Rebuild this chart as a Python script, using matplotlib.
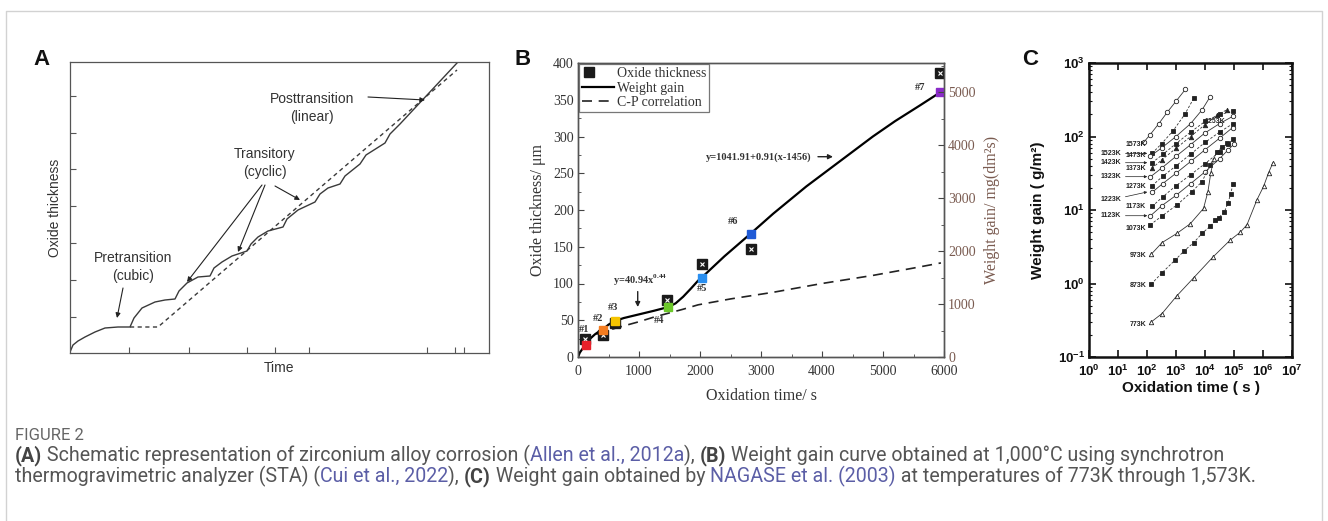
import matplotlib
matplotlib.use('Agg')
import matplotlib.pyplot as plt
from matplotlib import font_manager
from matplotlib.lines import Line2D
from matplotlib.legend_handler import HandlerTuple
from matplotlib.ticker import (FixedLocator, FixedFormatter, MultipleLocator,
                               LogLocator, NullLocator, NullFormatter)

W, H, DPI = 1328, 521, 100

installed = {f.name for f in font_manager.fontManager.ttflist}
NARROW = 'Liberation Sans Narrow' if 'Liberation Sans Narrow' in installed else 'Liberation Sans'
CAPFONT = NARROW if NARROW != 'Liberation Sans' else 'Roboto'

plt.rcParams['mathtext.fontset'] = 'custom'
plt.rcParams['mathtext.rm'] = 'Liberation Serif'
plt.rcParams['mathtext.bf'] = 'Liberation Serif:bold'
plt.rcParams['mathtext.sf'] = NARROW + ':bold'

# ---------------- panel A : schematic (arbitrary units)
a_time = [0, 3, 8, 15, 25, 35, 48, 60,
          64, 72, 85, 95, 105,
          109, 117, 128, 140,
          144, 152, 162, 177,
          181, 188, 198, 213,
          217, 228, 245,
          250, 258, 270,
          275, 290, 296, 315, 320, 330, 387]
a_thick = [1, 8, 12, 16, 21, 25, 26, 26,
           35, 45, 51, 53, 54,
           62, 70, 76, 77,
           85, 91, 97, 102,
           109, 116, 122, 126,
           134, 143, 151,
           159, 165, 169,
           177, 189, 198, 210, 219, 229, 290]
a_lin_time = [60, 88, 387]
a_lin_thick = [26, 26, 283]
a_xticks = [59, 119, 177, 205, 239, 357, 385, 394]
a_yticks = [36, 73, 110, 147, 184, 220, 257]

# ---------------- panel B : STA weight gain at 1000 C
b_wg_time = [0, 30, 80, 131, 200, 280, 350, 415, 500, 605, 750, 1000, 1250, 1480,
             1600, 1724, 1850, 1970, 2040, 2400, 2832, 3200, 3742, 4288, 4834,
             5200, 5600, 5936]
b_wg = [0, 6, 12, 17, 25, 31, 35, 38, 44, 49, 53, 58, 63, 68,
        73, 82, 93, 104, 109, 137, 168, 195, 232, 266, 300,
        321, 342, 360]
b_cp_time = [300, 605, 1000, 1233, 1500, 1724, 1970, 2500, 3197, 4000, 4834, 5500, 5950]
b_cp = [31, 39, 48, 54, 60, 65, 71, 79, 88, 100, 111, 121, 128]
b_sample_labels = ['#1', '#2', '#3', '#4', '#5', '#6', '#7']
b_sample_time = [131, 415, 605, 1479, 2040, 2832, 5936]
b_sample_wg = [16, 37, 49, 67.5, 108, 167, 360]
b_ox_time = [115, 415, 605, 1467, 2040, 2832, 5936]
b_ox_thick = [24, 30, 46, 77.5, 126, 146.5, 386]

# ---------------- panel C : NAGASE et al. weight gain (s, g/m2)
t_1573 = [76, 126, 250, 500, 1000, 2100]
w_1573 = [83, 105, 148, 214, 302, 437]
t_1523 = [150, 320, 800, 2000, 4100]
w_1523 = [59, 80, 120, 200, 331]
t_1473 = [130, 320, 1000, 3200, 7900, 15000]
w_1473 = [54, 70, 100, 150, 230, 347]
t_1423 = [150, 350, 1000, 3200, 10000, 32000, 93000]
w_1423 = [44, 57, 80, 115, 160, 200, 219]
t_1373 = [150, 320, 1000, 3200, 10000, 25000, 56000]
w_1373 = [37, 48, 69, 100, 145, 195, 230]
t_1323 = [130, 320, 1000, 3200, 10000, 32000, 95000]
w_1323 = [28.2, 37.2, 53.7, 77.6, 112, 150, 190]
t_1273 = [150, 350, 1000, 3200, 10000, 32000, 93000]
w_1273 = [21.4, 28.8, 39.8, 57.5, 83, 115, 150]
t_1223 = [150, 350, 1000, 3200, 10000, 32000, 89000]
w_1223 = [17.4, 22.9, 31.6, 45.7, 66, 95, 132]
t_1173 = [150, 350, 1000, 3200, 10000, 32000, 63000, 95000]
w_1173 = [11.2, 15.1, 21.4, 30.2, 42.7, 61.7, 79, 93]
t_1123 = [130, 330, 1000, 3200, 10000, 32000, 63000, 100000]
w_1123 = [8.3, 11.5, 15.8, 22.9, 33, 50, 66, 79]
t_1073 = [130, 330, 1070, 3500, 7900, 15000, 26000, 39000, 58000]
w_1073 = [6.3, 8.3, 11.7, 17.7, 24.3, 41, 62, 72, 81]
t_973 = [140, 330, 1070, 3100, 8900, 12600, 15800, 20000]
w_973 = [2.5, 3.6, 4.8, 6.5, 10.5, 17.8, 31.6, 50]
t_873 = [140, 330, 950, 1950, 4100, 7900, 15000, 23000, 29500, 47000, 63000, 76000, 93000]
w_873 = [0.98, 1.4, 2.1, 2.8, 3.6, 4.8, 6.0, 7.2, 7.8, 9.5, 12.6, 16.6, 22.4]
t_773 = [140, 330, 1070, 4100, 19000, 74000, 166000, 280000, 620000, 1050000, 1550000, 2200000]
w_773 = [0.30, 0.39, 0.68, 1.2, 2.3, 3.9, 5.0, 6.3, 13.8, 21, 32, 44]

c_plain_labels = ['1573K', '1473K', '1373K', '1273K', '1173K', '1073K', '973K', '873K', '773K']
c_plain_label_w = [78.3, 54.3, 36.9, 21.2, 11.3, 5.64, 2.39, 0.925, 0.281]
c_arrow_labels = ['1523K', '1423K', '1323K', '1223K', '1123K']
c_arrow_label_w = [59, 44, 28.4, 13.7, 8.36]
c_arrow_tip_w = [59, 44, 28.4, 17.6, 8.36]

fig = plt.figure(figsize=(W / DPI, H / DPI), dpi=DPI)


def px_axes(l, t, r, b):
    return fig.add_axes([l / W, 1 - b / H, (r - l) / W, (b - t) / H])


# outer frame
fig.add_artist(Line2D([6 / W, 6 / W, 1322 / W, 1322 / W], [0, 1 - 11 / H, 1 - 11 / H, 0],
                      transform=fig.transFigure, color='#d2d2d2', lw=1))

# ================= A
ink = '#3a3a3a'
axA = px_axes(70, 62, 489, 353)
axA.plot(a_time, a_thick, color=ink, lw=1.0)
axA.plot(a_lin_time, a_lin_thick, color=ink, lw=1.0, ls=(0, (3, 2.5)))
axA.set_xlim(0, 419)
axA.set_ylim(0, 291)
axA.set_xticks(a_xticks)
axA.set_yticks(a_yticks)
axA.tick_params(direction='in', length=4, width=0.8, color='#555',
                labelleft=False, labelbottom=False)
for s in axA.spines.values():
    s.set_color('#555')
    s.set_linewidth(0.9)
afont = dict(family='Liberation Sans', fontsize=10, color='#333')
axA.set_xlabel('Time', labelpad=6, **afont)
axA.set_ylabel('Oxide thickness', labelpad=6, **afont)
arr = dict(arrowstyle='-|>', lw=0.8, color='#222', mutation_scale=7, shrinkA=0, shrinkB=0)
axA.text(242, 245, 'Posttransition\n(linear)', ha='center', va='center', linespacing=1.35, **afont)
axA.annotate('', xy=(355, 253), xytext=(298, 256), arrowprops=arr)
axA.text(195, 190, 'Transitory\n(cyclic)', ha='center', va='center', linespacing=1.35, **afont)
axA.annotate('', xy=(117, 71), xytext=(192, 168), arrowprops=arr)
axA.annotate('', xy=(168, 101), xytext=(195, 168), arrowprops=arr)
axA.annotate('', xy=(230, 153), xytext=(205, 167), arrowprops=arr)
axA.text(63, 86, 'Pretransition\n(cubic)', ha='center', va='center', linespacing=1.35, **afont)
axA.annotate('', xy=(47, 35), xytext=(53, 65), arrowprops=arr)

# ================= B
serif = 'Liberation Serif'
brown = '#7a5b50'
axB = px_axes(578, 63, 944, 357)
axB.plot(b_cp_time, b_cp, color='#222', lw=1.2, ls=(0, (6, 4)), zorder=2)
axB.plot(b_wg_time, b_wg, color='black', lw=1.6, zorder=3)
axB.plot(b_ox_time, b_ox_thick, ls='none', marker='s', ms=7, mfc='#1a1a1a', mec='#1a1a1a', zorder=4)
axB.plot(b_ox_time, b_ox_thick, ls='none', marker='x', ms=3.5, mew=0.8, color='white', zorder=5)
sample_colors = ['#e8202a', '#f47c20', '#f5c400', '#6cc82a', '#2a8ff0', '#1f5ad6', '#8a2bc8']
for t, w, c in zip(b_sample_time, b_sample_wg, sample_colors):
    axB.plot(t, w, ls='none', marker='s', ms=6, mfc=c, mec=c, zorder=6)
axB.set_xlim(0, 6000)
axB.set_ylim(0, 400)
axB.xaxis.set_major_locator(MultipleLocator(1000))
axB.xaxis.set_minor_locator(MultipleLocator(500))
axB.yaxis.set_major_locator(MultipleLocator(50))
axB.yaxis.set_minor_locator(MultipleLocator(25))
axB.tick_params(which='both', direction='in', color='#444', labelcolor='#333', labelsize=10)
axB.tick_params(which='major', length=4, pad=3)
axB.tick_params(axis='x', which='major', pad=6)
axB.tick_params(which='minor', length=2)
for lab in axB.get_xticklabels() + axB.get_yticklabels():
    lab.set_family(serif)
for s in axB.spines.values():
    s.set_color('#555')
    s.set_linewidth(1.0)
axB.set_xlabel('Oxidation time/ s', family=serif, fontsize=11.5, color='#333', labelpad=7)
axB.set_ylabel('Oxide thickness/ μm', family=serif, fontsize=11.5, color='#333', labelpad=5)

ax2 = axB.twinx()
ax2.set_ylim(0, 5550)
ax2.yaxis.set_major_locator(MultipleLocator(1000))
ax2.yaxis.set_minor_locator(MultipleLocator(500))
ax2.tick_params(which='both', direction='in', color='#444', labelcolor=brown, labelsize=10)
ax2.tick_params(which='major', length=4, pad=3)
ax2.tick_params(which='minor', length=2)
for lab in ax2.get_yticklabels():
    lab.set_family(serif)
ax2.set_ylabel('Weight gain/ mg(dm²s)', family=serif, fontsize=11.5, color=brown, labelpad=6)
for s in ax2.spines.values():
    s.set_color('#555')
    s.set_linewidth(1.0)

lab_kw = dict(family=serif, fontsize=7.5, fontweight='bold', color='#333', ha='center', va='center')
lab_pos = [(98, 37), (333, 53), (570, 68), (1335, 49), (2031, 93), (2540, 184), (5616, 366)]
for name, (x, y) in zip(b_sample_labels, lab_pos):
    axB.text(x, y, name, **lab_kw)
axB.text(1016, 104, r'y=40.94x$^{\mathbf{0.44}}$', **lab_kw)
axB.annotate('', xy=(979, 68), xytext=(979, 89),
             arrowprops=dict(arrowstyle='-|>', lw=1.0, color='#222', mutation_scale=7,
                             shrinkA=0, shrinkB=0))
axB.text(2970, 272.5, 'y=1041.91+0.91(x-1456)', **lab_kw)
axB.annotate('', xy=(4180, 272.5), xytext=(3934, 272.5),
             arrowprops=dict(arrowstyle='-|>', lw=1.0, color='#222', mutation_scale=7,
                             shrinkA=0, shrinkB=0))

sq = Line2D([], [], ls='none', marker='s', ms=7, mfc='#1a1a1a', mec='#1a1a1a')
xx = Line2D([], [], ls='none', marker='x', ms=3.5, mew=0.8, color='white')
leg = axB.legend([(sq, xx), Line2D([], [], color='black', lw=1.6),
                  Line2D([], [], color='#222', lw=1.2, ls=(0, (6, 4)))],
                 ['Oxide thickness', 'Weight gain', 'C-P correlation'],
                 loc='upper left', bbox_to_anchor=(0, 1), borderaxespad=0.1,
                 fancybox=False, edgecolor='#777', framealpha=1,
                 prop={'family': serif, 'size': 10}, handlelength=2.3,
                 handletextpad=0.2, labelspacing=0.1, borderpad=0.2,
                 handler_map={tuple: HandlerTuple(ndivide=None)})
leg.get_frame().set_linewidth(0.9)
for t in leg.get_texts():
    t.set_color('#333')

# ================= C
axC = px_axes(1089, 63, 1292, 357)
c_series = [
    (t_1573, w_1573, 'o', False), (t_1523, w_1523, 's', True),
    (t_1473, w_1473, 'o', False), (t_1423, w_1423, 's', True),
    (t_1373, w_1373, '^', True), (t_1323, w_1323, 'o', False),
    (t_1273, w_1273, 's', True), (t_1223, w_1223, 'o', False),
    (t_1173, w_1173, 's', True), (t_1123, w_1123, 'o', False),
    (t_1073, w_1073, 's', True), (t_973, w_973, '^', False),
    (t_873, w_873, 's', True), (t_773, w_773, '^', False),
]
for t, w, m, filled in c_series:
    axC.plot(t, w, color='#333', lw=0.6, ls=(0, (3, 2)) if filled else '-',
             marker=m, ms=3.2, mew=0.6, mec='#222', mfc='#222' if filled else 'white')
axC.set_xscale('log')
axC.set_yscale('log')
axC.set_xlim(1, 1e7)
axC.set_ylim(0.1, 1000)
xdec = [1, 10, 100, 1e3, 1e4, 1e5, 1e6, 1e7]
ydec = [0.1, 1, 10, 100, 1000]
axC.xaxis.set_major_locator(FixedLocator(xdec))
axC.xaxis.set_major_formatter(FixedFormatter([r'$\mathsf{10^{%d}}$' % k for k in range(8)]))
axC.xaxis.set_minor_locator(NullLocator())
axC.yaxis.set_major_locator(FixedLocator(ydec))
axC.yaxis.set_major_formatter(FixedFormatter([r'$\mathsf{10^{%d}}$' % k for k in range(-1, 4)]))
axC.yaxis.set_minor_locator(LogLocator(base=10, subs=range(2, 10), numticks=20))
axC.yaxis.set_minor_formatter(NullFormatter())
axC.tick_params(which='both', direction='in', top=True, right=True, color='#111',
                labelsize=9.5, labelcolor='#111')
axC.tick_params(which='major', length=5, width=1.2, pad=3)
axC.tick_params(axis='x', which='major', pad=5)
axC.tick_params(which='minor', length=2.5, width=0.8)
for s in axC.spines.values():
    s.set_color('#111')
    s.set_linewidth(1.8)
cfont = dict(family=NARROW, fontweight='bold', color='#111')
axC.set_xlabel('Oxidation time ( s )', fontsize=11, labelpad=1, **cfont)
axC.set_ylabel('Weight gain ( g/m²)', fontsize=11, labelpad=9, **cfont)

kfont = dict(family=NARROW, fontweight='bold', fontsize=5, color='#222', va='center')
for name, w in zip(c_plain_labels, c_plain_label_w):
    axC.text(94, w, name, ha='right', **kfont)
for name, w, wt in zip(c_arrow_labels, c_arrow_label_w, c_arrow_tip_w):
    axC.annotate(name, xy=(102, wt), xytext=(13, w), ha='right', **kfont,
                 arrowprops=dict(arrowstyle='-|>', lw=0.5, color='#222', mutation_scale=4,
                                 shrinkA=1, shrinkB=0))
axC.text(22650, 162, '1253K', ha='center', **kfont)

# panel letters
for letter, x in [('A', 33), ('B', 514), ('C', 1022)]:
    fig.text(x / W, 1 - 65 / H, letter, family='Liberation Sans', fontweight='bold',
             fontsize=16, va='baseline', color='#111')

# ================= caption
renderer = fig.canvas.get_renderer()
grey, link = '#555555', '#5b5ea6'


def run_width(txt, **kw):
    t1 = fig.text(0, 0, '|' + txt + '|', **kw)
    t2 = fig.text(0, 0, '||', **kw)
    w = t1.get_window_extent(renderer).width - t2.get_window_extent(renderer).width
    t1.remove()
    t2.remove()
    return w


line1 = [('(A)', 'b'), (' Schematic representation of zirconium alloy corrosion (', 'n'),
         ('Allen et al., 2012a', 'l'), ('), ', 'n'), ('(B)', 'b'),
         (' Weight gain curve obtained at 1,000°C using synchrotron', 'n')]
line2 = [('thermogravimetric analyzer (STA) (', 'n'), ('Cui et al., 2022', 'l'), ('), ', 'n'),
         ('(C)', 'b'), (' Weight gain obtained by ', 'n'), ('NAGASE et al. (2003)', 'l'),
         (' at temperatures of 773K through 1,573K.', 'n')]


def style(kind, size):
    kw = dict(family=CAPFONT, fontsize=size, color=grey)
    if kind == 'b':
        kw.update(fontweight='bold', color='#444')
    elif kind == 'l':
        kw.update(color=link)
    return kw


base = 10
total = sum(run_width(s, **style(k, base)) for s, k in line1)
size = base * 1207 / total


def draw_line(runs, x, y):
    for s, k in runs:
        kw = style(k, size)
        fig.text(x / W, 1 - y / H, s, va='baseline', **kw)
        x += run_width(s, **kw)


fig.text(15 / W, 1 - 440 / H, 'FIGURE 2', family=CAPFONT, fontsize=size * 0.85,
         color='#666', va='baseline')
draw_line(line1, 15, 461)
draw_line(line2, 15, 482)

fig.savefig('out.png', dpi=DPI)
